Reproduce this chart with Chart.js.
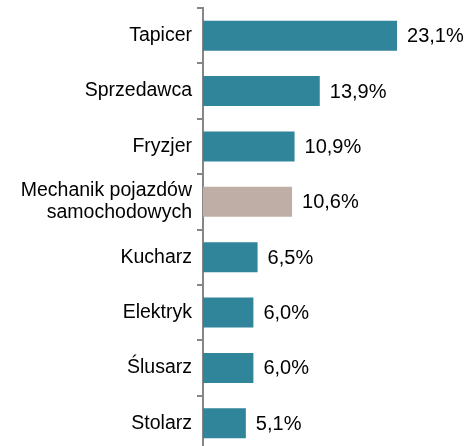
<!DOCTYPE html>
<html>
<head>
<meta charset="utf-8">
<script src="https://cdn.jsdelivr.net/npm/chart.js@4/dist/chart.umd.min.js"></script>
<style>
  html, body { margin: 0; padding: 0; background: #fff; overflow: hidden; }
  #wrap { width: 468px; height: 451px; position: relative; }
</style>
</head>
<body>
<div id="wrap"><canvas id="chart"></canvas></div>
<script>
const categories = [
  "Tapicer",
  "Sprzedawca",
  "Fryzjer",
  ["Mechanik pojazdów", "samochodowych"],
  "Kucharz",
  "Elektryk",
  "Ślusarz",
  "Stolarz"
];
const shares = [23.1, 13.9, 10.9, 10.6, 6.5, 6.0, 6.0, 5.1];
const barColors = ["#31859B", "#31859B", "#31859B", "#BFAEA6", "#31859B", "#31859B", "#31859B", "#31859B"];

const FONT = "'Liberation Sans', Arial, sans-serif";

// wartości obok słupków, np. "23,1%"
const valueLabels = {
  id: "valueLabels",
  afterDatasetsDraw(chart) {
    const ctx = chart.ctx;
    const meta = chart.getDatasetMeta(0);
    ctx.save();
    ctx.font = "20px " + FONT;
    ctx.fillStyle = "#000";
    ctx.textAlign = "left";
    ctx.textBaseline = "middle";
    meta.data.forEach((bar, i) => {
      const txt = shares[i].toFixed(1).replace(".", ",") + "%";
      ctx.fillText(txt, bar.x + 10, bar.y + 1);
    });
    ctx.restore();
  }
};

new Chart(document.getElementById("chart").getContext("2d"), {
  type: "bar",
  data: {
    labels: categories,
    datasets: [
      {
        data: shares,
        backgroundColor: barColors,
        categoryPercentage: 1,
        barPercentage: 0.54
      }
    ]
  },
  options: {
    indexAxis: "y",
    responsive: true,
    maintainAspectRatio: false,
    animation: false,
    layout: { padding: { top: 8, right: 13, bottom: 0, left: 0 } },
    plugins: {
      legend: { display: false },
      tooltip: { enabled: false }
    },
    scales: {
      x: {
        display: false,
        min: 0,
        max: 30
      },
      y: {
        grid: {
          drawOnChartArea: false,
          offset: true,
          color: "#868686",
          lineWidth: 2,
          tickLength: 6
        },
        border: { color: "#868686", width: 2 },
        ticks: {
          color: "#000",
          padding: 5,
          font: { family: FONT, size: 19.5, lineHeight: 1.12 }
        },
        afterFit: (scale) => {
          scale.width = 203;
          scale.paddingTop = 0;
          scale.paddingBottom = 0;
        }
      }
    }
  },
  plugins: [valueLabels]
});
</script>
</body>
</html>
